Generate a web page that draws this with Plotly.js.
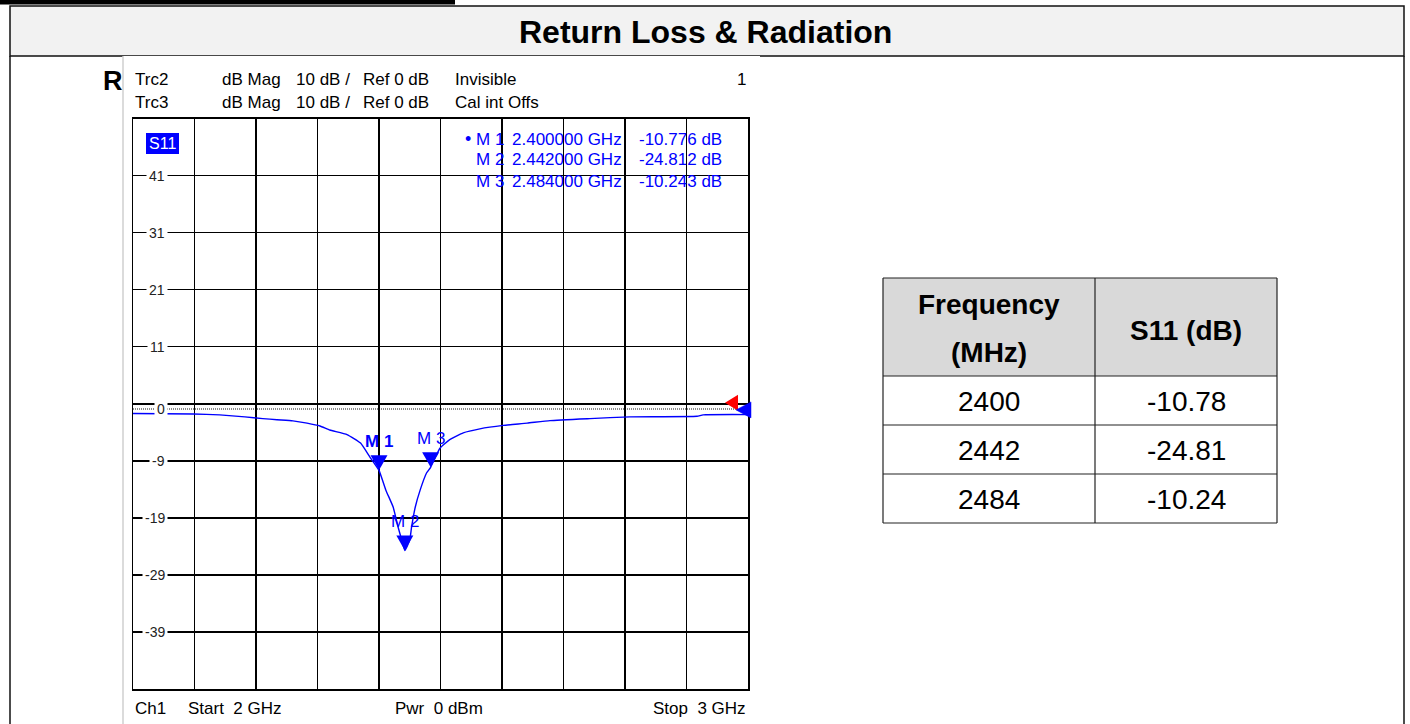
<!DOCTYPE html>
<html>
<head>
<meta charset="utf-8">
<script src="https://cdn.plot.ly/plotly-3.0.1.min.js"></script>
<style>html,body{margin:0;padding:0;background:#fff;}#chart{width:1410px;height:724px;}</style>
</head>
<body>
<div id="chart"></div>
<script>
// ---------------- DATA ----------------
const startGHz = 2;
const stopGHz = 3;
const freqGHz = [2.000, 2.098, 2.141, 2.182, 2.211, 2.234, 2.260, 2.283, 2.304, 2.320, 2.348, 2.370, 2.385,
  2.400, 2.411, 2.423, 2.431, 2.437, 2.442, 2.450, 2.453, 2.459, 2.467, 2.4775, 2.484,
  2.499, 2.515, 2.537, 2.564, 2.602, 2.641, 2.678, 2.743, 2.808, 2.917, 2.927, 3.000];
const s11dB = [-0.82, -0.9, -1.05, -1.4, -1.7, -1.9, -2.1, -2.5, -3.0, -3.7, -4.5, -6.0, -8.4,
  -10.78, -14.2, -17.2, -20.7, -23.0, -24.81, -23.0, -20.7, -17.2, -14.2, -11.2, -10.24,
  -6.9, -5.4, -4.2, -3.5, -2.9, -2.5, -2.05, -1.7, -1.4, -1.3, -1.05, -1.0];

const markerNames = ['M 1', 'M 2', 'M 3'];
const markerGHz = [2.400, 2.442, 2.484];
const markerDb = [-10.776, -24.812, -10.243];

const xGridGHz = [2.1, 2.2, 2.3, 2.4, 2.5, 2.6, 2.7, 2.8, 2.9];
const yGridDb = [40.9, 30.9, 20.9, 10.9, 0.9, -9.1, -19.1, -29.1, -39.1];
const yRange = [-49.1, 50.9];
const yLabelDb = [40.9, 30.9, 20.9, 10.9, 0, -9.1, -19.1, -29.1, -39.1];
const yLabelText = ['41', '31', '21', '11', '0', '-9', '-19', '-29', '-39'];
const refLevelDb = 0;
const refGridDb = 0.9;

const tableHeader = ['<b>Frequency</b>', '<b>(MHz)</b>', '<b>S11 (dB)</b>'];
const tableMHz = [2400, 2442, 2484];
const tableS11 = ['-10.78', '-24.81', '-10.24'];

// ---------------- LAYOUT HELPERS ----------------
const W = 1410, H = 724;
const px = x => x / W;
const py = y => 1 - y / H;
const FONT = 'Arial, "Liberation Sans", sans-serif';
const BLUE = 'rgb(0,0,255)';
const NB = '\u00a0';
const PLOT_L = 133, PLOT_R = 748, PLOT_T = 118.5, PLOT_B = 689;
const yDomain = [py(PLOT_B), py(PLOT_T)];
// convert a dB value to paper fraction through the y axis scale
const dbToPaper = v => yDomain[0] + (v - yRange[0]) / (yRange[1] - yRange[0]) * (yDomain[1] - yDomain[0]);

const shapes = [];
const annotations = [];

function txt(x, y, text, opts) {
  opts = opts || {};
  annotations.push(Object.assign({
    xref: 'paper', yref: 'paper', x: px(x), y: py(y), text: text, showarrow: false,
    xanchor: 'left', yanchor: 'middle',
    font: {family: FONT, size: 17, color: '#000'}
  }, opts));
}
function rect(x0, y0, x1, y1, fill, line) {
  shapes.push({type: 'rect', xref: 'paper', yref: 'paper', layer: 'below',
    x0: px(x0), x1: px(x1), y0: py(y0), y1: py(y1),
    fillcolor: fill, line: line || {width: 0}});
}
function hline(x0, x1, y, color, width, layer) {
  shapes.push({type: 'line', xref: 'paper', yref: 'paper', layer: layer || 'below',
    x0: px(x0), x1: px(x1), y0: py(y), y1: py(y), line: {color: color, width: width}});
}
function vline(x, y0, y1, color, width, layer) {
  shapes.push({type: 'line', xref: 'paper', yref: 'paper', layer: layer || 'below',
    x0: px(x), x1: px(x), y0: py(y0), y1: py(y1), line: {color: color, width: width}});
}

// page frame
rect(0, 0, 455, 4.5, '#000');
rect(10, 6, 1404, 56, '#f2f2f2', {color: '#111', width: 1.5});
vline(10, 56, 724, '#111', 1.5);
vline(1404, 56, 724, '#111', 1.5);
txt(706, 32, '<b>Return Loss & Radiation</b>', {xanchor: 'center', font: {family: FONT, size: 32, color: '#000'}});
txt(101, 81, '<b>R</b>', {font: {family: FONT, size: 27, color: '#000'}});

// VNA screenshot area
rect(123, 56, 760, 724, '#fff');
vline(123, 56, 724, '#cfcfcf', 1.5);

// header rows
const hdrRows = [['Trc2', 'Invisible'], ['Trc3', 'Cal int Offs']];
const hdrY = [80, 102];
hdrRows.forEach((r, i) => {
  txt(133, hdrY[i], r[0]);
  txt(220, hdrY[i], 'dB Mag');
  txt(294, hdrY[i], '10 dB /');
  txt(361, hdrY[i], 'Ref 0 dB');
  txt(453, hdrY[i], r[1]);
});
txt(PLOT_R, 80, '1', {xanchor: 'right'});

// S11 label box
rect(146, 133, 179, 154, BLUE);
txt(162.5, 144, 'S11', {xanchor: 'center', font: {family: FONT, size: 16, color: '#fff'}});

// marker readout
const readY = [139, 159, 181];
markerNames.forEach((m, i) => {
  if (i === 0) txt(463, readY[i], '•', {font: {family: FONT, size: 18, color: BLUE}});
  txt(474, readY[i], m, {font: {family: FONT, size: 17, color: BLUE}});
  txt(510, readY[i], markerGHz[i].toFixed(6) + ' GHz', {font: {family: FONT, size: 17, color: BLUE}});
  txt(637, readY[i], markerDb[i].toFixed(3) + ' dB', {font: {family: FONT, size: 17, color: BLUE}});
});

// bottom line
txt(PLOT_L, 708, 'Ch1');
txt(186, 708, 'Start' + NB + NB + startGHz + ' GHz');
txt(393, 708, 'Pwr' + NB + NB + '0 dBm');
txt(PLOT_R, 708, 'Stop' + NB + NB + stopGHz + ' GHz', {xanchor: 'right'});

// y tick labels (inside plot, white background)
yLabelDb.forEach((v, i) => {
  annotations.push({xref: 'paper', yref: 'y', x: px(168), y: v, text: yLabelText[i],
    showarrow: false, xanchor: 'right', yanchor: 'middle', bgcolor: '#fff', borderpad: 2,
    font: {family: FONT, size: 14, color: '#222'}});
});

// reference 0 dB dotted line
shapes.push({type: 'line', xref: 'x', yref: 'y', x0: startGHz, x1: stopGHz, y0: refLevelDb, y1: refLevelDb,
  line: {color: '#666', width: 1.5, dash: '1px,1px'}, layer: 'below'});

// marker triangles and labels
markerNames.forEach((m, i) => {
  shapes.push({type: 'path', xref: 'x', yref: 'y', xsizemode: 'pixel', ysizemode: 'pixel',
    xanchor: markerGHz[i], yanchor: markerDb[i], path: 'M -8.5 15 L 8.5 15 L 0 0 Z',
    fillcolor: BLUE, line: {width: 0}});
  annotations.push({xref: 'x', yref: 'y', x: markerGHz[i], y: markerDb[i], yanchor: 'bottom', xanchor: 'center',
    yshift: 17, text: i === 0 ? '<b>' + m + '</b>' : m, showarrow: false,
    font: {family: FONT, size: 17, color: BLUE}});
});

// reference level triangles at the right edge (paper refs so they are not clipped)
shapes.push({type: 'path', xref: 'paper', yref: 'paper', xsizemode: 'pixel', ysizemode: 'pixel',
  xanchor: px(PLOT_R), yanchor: dbToPaper(refGridDb), path: 'M -23 1 L -10 9 L -10 -7 Z',
  fillcolor: 'rgb(255,0,0)', line: {width: 0}});
shapes.push({type: 'path', xref: 'paper', yref: 'paper', xsizemode: 'pixel', ysizemode: 'pixel',
  xanchor: px(PLOT_R), yanchor: dbToPaper(refLevelDb), path: 'M -12 -1 L 3 7 L 3 -9 Z',
  fillcolor: BLUE, line: {color: BLUE, width: 0.5}});

// table
const tblTop = 278, hdrH = 98, rowH = 49, colX = [883, 1095, 1277];
const tblBottom = tblTop + hdrH + rowH * tableMHz.length;
rect(colX[0], tblTop, colX[2], tblTop + hdrH, '#d9d9d9');
const rowLines = [tblTop, tblTop + hdrH];
tableMHz.forEach((_, i) => rowLines.push(tblTop + hdrH + rowH * (i + 1)));
rowLines.forEach(y => hline(colX[0], colX[2], y, '#222', 1.2, 'above'));
colX.forEach(x => vline(x, tblTop, tblBottom, '#222', 1.2, 'above'));
const c1 = (colX[0] + colX[1]) / 2, c2 = (colX[1] + colX[2]) / 2;
txt(c1, tblTop + 26, tableHeader[0], {xanchor: 'center', font: {family: FONT, size: 28, color: '#000'}});
txt(c1, tblTop + 74, tableHeader[1], {xanchor: 'center', font: {family: FONT, size: 28, color: '#000'}});
txt(c2, tblTop + hdrH / 2 + 3, tableHeader[2], {xanchor: 'center', font: {family: FONT, size: 28, color: '#000'}});
tableMHz.forEach((f, i) => {
  const yc = tblTop + hdrH + rowH * i + rowH / 2 + 1;
  txt(c1, yc, String(f), {xanchor: 'center', font: {family: FONT, size: 28, color: '#000'}});
  txt(c2, yc, tableS11[i], {xanchor: 'center', font: {family: FONT, size: 28, color: '#000'}});
});

const trace = {
  type: 'scatter', mode: 'lines', x: freqGHz, y: s11dB,
  line: {color: BLUE, width: 1.4, shape: 'spline', smoothing: 0.4}, hoverinfo: 'skip'
};

const axisCommon = {
  showticklabels: false, ticks: '', showgrid: true, gridcolor: '#000', gridwidth: 1.5,
  showline: true, mirror: true, linecolor: '#000', linewidth: 1.5, zeroline: false, fixedrange: true
};

const layout = {
  width: W, height: H, margin: {l: 0, r: 0, t: 0, b: 0},
  paper_bgcolor: '#fff', plot_bgcolor: 'rgba(0,0,0,0)', showlegend: false,
  xaxis: Object.assign({domain: [px(PLOT_L), px(PLOT_R)], range: [startGHz, stopGHz], tickvals: xGridGHz}, axisCommon),
  yaxis: Object.assign({domain: yDomain, range: yRange, tickvals: yGridDb}, axisCommon),
  shapes: shapes, annotations: annotations,
  font: {family: FONT}
};

Plotly.newPlot('chart', [trace], layout, {displayModeBar: false, staticPlot: true});
</script>
</body>
</html>
